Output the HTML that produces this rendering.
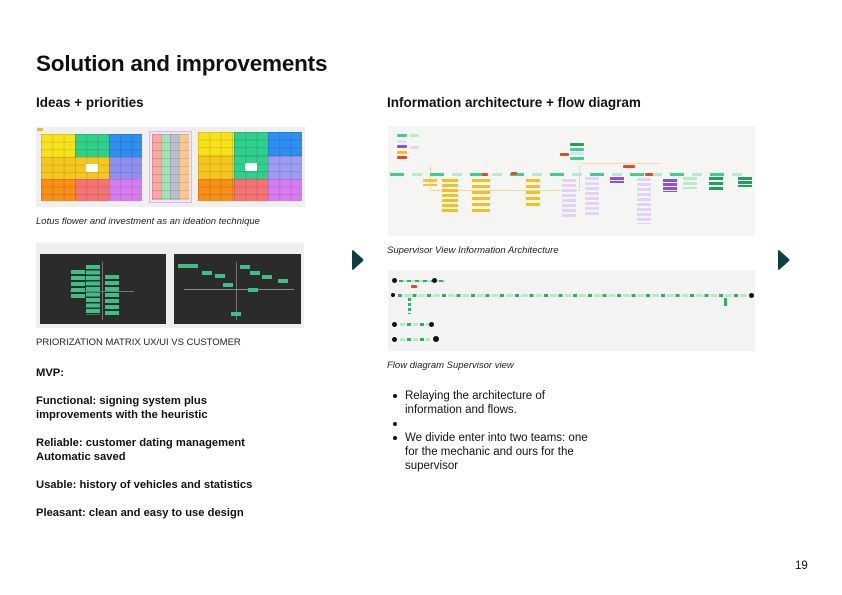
<!DOCTYPE html>
<html><head><meta charset="utf-8"><style>
*{margin:0;padding:0;box-sizing:border-box}
body{width:842px;height:595px;background:#fff;position:relative;overflow:hidden;font-family:"Liberation Sans",sans-serif;color:#111}
.a{position:absolute}
h1{position:absolute;left:36px;top:51px;font-size:22.5px;font-weight:bold;letter-spacing:-0.2px}
h2{position:absolute;font-size:13.5px;font-weight:bold}
.cap{position:absolute;font-size:9.5px;font-style:italic;color:#222}
.g{position:absolute;background-image:linear-gradient(rgba(0,0,0,.12) 1px,transparent 1px),linear-gradient(90deg,rgba(0,0,0,.12) 1px,transparent 1px);background-size:11.3px 7.6px}
.b{position:absolute;height:3px;border-radius:1px}
.dot{position:absolute;width:5px;height:5px;border-radius:50%;background:#111}
.mvp{position:absolute;left:36px;font-size:11.2px;font-weight:bold;line-height:14px;color:#111}
ul{position:absolute;left:392px;top:389px;font-size:11.5px;line-height:14px;list-style:none}
ul li{position:relative;padding-left:13px}
ul li:before{content:"";position:absolute;left:1px;top:5px;width:4px;height:4px;border-radius:50%;background:#111}
</style></head><body>
<h1>Solution and improvements</h1>
<h2 style="left:36px;top:95px">Ideas + priorities</h2>
<h2 style="left:387px;top:95px">Information architecture + flow diagram</h2>

<!-- lotus image -->
<div class="a" style="left:36px;top:127px;width:269px;height:80px;background:#efefef"></div>
<div class="a" style="left:37px;top:128px;width:6px;height:3px;background:#e8c020"></div>
<div class="g" style="left:41px;top:134px;width:34px;height:23px;background-color:#f7e21b"></div>
<div class="g" style="left:75px;top:134px;width:34px;height:23px;background-color:#2fcf8c"></div>
<div class="g" style="left:109px;top:134px;width:33px;height:23px;background-color:#2f8ff0"></div>
<div class="g" style="left:41px;top:157px;width:34px;height:22px;background-color:#f5c71e"></div>
<div class="g" style="left:75px;top:157px;width:34px;height:22px;background-color:#f5c71e"></div>
<div class="a" style="left:86px;top:164px;width:12px;height:8px;background:#fff"></div>
<div class="g" style="left:109px;top:157px;width:33px;height:22px;background-color:#8f8ff0"></div>
<div class="g" style="left:41px;top:179px;width:34px;height:22px;background-color:#f88f16"></div>
<div class="g" style="left:75px;top:179px;width:34px;height:22px;background-color:#f47474"></div>
<div class="g" style="left:109px;top:179px;width:33px;height:22px;background-color:#d77cf0"></div>
<div class="a" style="left:149px;top:131px;width:43px;height:72px;background:#f0e4fb;border:1px solid #d7b8f5"></div>
<div class="g" style="left:152px;top:134px;width:9px;height:66px;background-color:#f8a9a0;background-size:9px 8px"></div>
<div class="g" style="left:161px;top:134px;width:9px;height:66px;background-color:#9fe3b5;background-size:9px 8px"></div>
<div class="g" style="left:170px;top:134px;width:9px;height:66px;background-color:#b8c0ce;background-size:9px 8px"></div>
<div class="g" style="left:179px;top:134px;width:10px;height:66px;background-color:#f8c890;background-size:10px 8px"></div>
<div class="g" style="left:198px;top:132px;width:36px;height:24px;background-color:#f7e21b"></div>
<div class="g" style="left:234px;top:132px;width:34px;height:24px;background-color:#2fcf8c"></div>
<div class="g" style="left:268px;top:132px;width:34px;height:24px;background-color:#2f8ff0"></div>
<div class="g" style="left:198px;top:156px;width:36px;height:23px;background-color:#f5c71e"></div>
<div class="g" style="left:234px;top:156px;width:34px;height:23px;background-color:#2fcf8c"></div>
<div class="a" style="left:245px;top:163px;width:12px;height:8px;background:#fff"></div>
<div class="g" style="left:268px;top:156px;width:34px;height:23px;background-color:#9c9cf2"></div>
<div class="g" style="left:198px;top:179px;width:36px;height:22px;background-color:#f88f16"></div>
<div class="g" style="left:234px;top:179px;width:34px;height:22px;background-color:#f47474"></div>
<div class="g" style="left:268px;top:179px;width:34px;height:22px;background-color:#d77cf0"></div>
<div class="cap" style="left:36px;top:216px">Lotus flower and investment as an ideation technique</div>

<!-- matrix image -->
<div class="a" style="left:36px;top:243px;width:268px;height:85px;background:#efefef"></div>
<div class="a" style="left:40px;top:254px;width:126px;height:70px;background:#2b2b2b"></div>
<div class="a" style="left:174px;top:254px;width:127px;height:70px;background:#2b2b2b"></div>
<div class="a" style="left:102px;top:262px;width:1px;height:58px;background:#777"></div>
<div class="a" style="left:70px;top:291px;width:64px;height:1px;background:#777"></div>
<div class="a" style="left:236px;top:262px;width:1px;height:58px;background:#777"></div>
<div class="a" style="left:184px;top:289px;width:110px;height:1px;background:#888"></div>
<div class="a" style="left:71px;top:270px;width:14px;height:29px;background:repeating-linear-gradient(#3fbf88 0 4px,transparent 4px 6px)"></div>
<div class="a" style="left:86px;top:265px;width:14px;height:50px;background:repeating-linear-gradient(#3fbf88 0 4px,transparent 4px 5.5px)"></div>
<div class="a" style="left:105px;top:275px;width:14px;height:40px;background:repeating-linear-gradient(#3fbf88 0 4px,transparent 4px 6px)"></div>
<div class="a" style="left:178px;top:264px;width:20px;height:4px;background:#3fbf88"></div>
<div class="a" style="left:202px;top:271px;width:10px;height:4px;background:#3fbf88"></div>
<div class="a" style="left:215px;top:274px;width:10px;height:4px;background:#3fbf88"></div>
<div class="a" style="left:223px;top:283px;width:10px;height:4px;background:#3fbf88"></div>
<div class="a" style="left:240px;top:265px;width:10px;height:4px;background:#3fbf88"></div>
<div class="a" style="left:250px;top:271px;width:10px;height:4px;background:#3fbf88"></div>
<div class="a" style="left:262px;top:275px;width:10px;height:4px;background:#3fbf88"></div>
<div class="a" style="left:278px;top:279px;width:10px;height:4px;background:#3fbf88"></div>
<div class="a" style="left:248px;top:288px;width:10px;height:4px;background:#3fbf88"></div>
<div class="a" style="left:231px;top:312px;width:10px;height:4px;background:#3fbf88"></div>
<div class="cap" style="left:36px;top:337px;font-style:normal;font-size:9.5px">PRIORIZATION MATRIX UX/UI VS CUSTOMER</div>

<div class="mvp" style="top:366px">MVP:</div>
<div class="mvp" style="top:394px">Functional: signing system plus<br>improvements with the heuristic</div>
<div class="mvp" style="top:436px">Reliable: customer dating management<br>Automatic saved</div>
<div class="mvp" style="top:478px">Usable: history of vehicles and statistics</div>
<div class="mvp" style="top:506px">Pleasant: clean and easy to use design</div>

<!-- IA -->
<div class="a" style="left:388px;top:126px;width:367px;height:110px;background:#f5f5f3"></div>
<div class="b" style="left:397px;top:134px;width:10px;background:#3fcf88"></div>
<div class="b" style="left:410px;top:134px;width:9px;background:#b5ecc8"></div>
<div class="b" style="left:397px;top:140px;width:10px;background:#cfe6f8"></div>
<div class="b" style="left:397px;top:145px;width:10px;background:#8a4fe0"></div>
<div class="b" style="left:410px;top:146px;width:9px;background:#e2d4f8"></div>
<div class="b" style="left:397px;top:151px;width:10px;background:#f2c020"></div>
<div class="b" style="left:397px;top:156px;width:10px;background:#e04a2a"></div>
<div class="b" style="left:570px;top:143px;width:14px;background:#1f9f5a"></div>
<div class="b" style="left:570px;top:148px;width:14px;background:#3fcf88"></div>
<div class="b" style="left:570px;top:152px;width:14px;background:#cfe6f8"></div>
<div class="b" style="left:560px;top:153px;width:9px;background:#e04a2a"></div>
<div class="b" style="left:570px;top:157px;width:14px;background:#3fcf88"></div>
<div class="a" style="left:430px;top:165px;width:150px;height:26px;border:1px solid #f0dca0;border-top:none"></div>
<div class="a" style="left:580px;top:163px;width:80px;height:1px;background:#f0dca0"></div>
<div class="a" style="left:390px;top:173px;width:360px;height:3px;background:repeating-linear-gradient(90deg,#3fcf88 0 14px,transparent 14px 22px,#b5ecc8 22px 32px,transparent 32px 40px)"></div>
<div class="b" style="left:482px;top:173px;width:6px;background:#e04a2a"></div>
<div class="b" style="left:511px;top:172px;width:6px;background:#e04a2a"></div>
<div class="b" style="left:645px;top:173px;width:8px;background:#e04a2a"></div>
<div class="b" style="left:623px;top:165px;width:12px;background:#e04a2a"></div>
<div class="a" style="left:423px;top:179px;width:14px;height:7px;background:repeating-linear-gradient(#f2c020 0 3px,transparent 3px 5px);opacity:.9"></div>
<div class="a" style="left:442px;top:179px;width:16px;height:34px;background:repeating-linear-gradient(#f2c020 0 3px,transparent 3px 5px)"></div>
<div class="a" style="left:472px;top:179px;width:18px;height:34px;background:repeating-linear-gradient(#f2c020 0 3px,transparent 3px 6px)"></div>
<div class="a" style="left:526px;top:179px;width:14px;height:30px;background:repeating-linear-gradient(#f2c020 0 3px,transparent 3px 6px)"></div>
<div class="a" style="left:562px;top:179px;width:14px;height:40px;background:repeating-linear-gradient(#e2d4f8 0 3px,transparent 3px 5px)"></div>
<div class="a" style="left:585px;top:177px;width:14px;height:40px;background:repeating-linear-gradient(#e2d4f8 0 3px,transparent 3px 5px)"></div>
<div class="a" style="left:610px;top:177px;width:14px;height:6px;background:repeating-linear-gradient(#8a4fe0 0 3px,transparent 3px 4px)"></div>
<div class="a" style="left:637px;top:178px;width:14px;height:46px;background:repeating-linear-gradient(#e2d4f8 0 3px,transparent 3px 5px)"></div>
<div class="a" style="left:663px;top:179px;width:14px;height:13px;background:repeating-linear-gradient(#8a4fe0 0 3px,transparent 3px 4px)"></div>
<div class="a" style="left:683px;top:177px;width:14px;height:12px;background:repeating-linear-gradient(#b5ecc8 0 3px,transparent 3px 5px)"></div>
<div class="a" style="left:709px;top:177px;width:14px;height:14px;background:repeating-linear-gradient(#1f9f5a 0 3px,transparent 3px 5px)"></div>
<div class="a" style="left:738px;top:177px;width:14px;height:10px;background:repeating-linear-gradient(#1f9f5a 0 3px,transparent 3px 4px)"></div>
<div class="cap" style="left:387px;top:245px">Supervisor View Information Architecture</div>

<!-- flow -->
<div class="a" style="left:388px;top:270px;width:367px;height:81px;background:#f3f3f3"></div>
<div class="dot" style="left:392px;top:278px"></div>
<div class="a" style="left:399px;top:280px;width:46px;height:2px;background:repeating-linear-gradient(90deg,#2fb060 0 4px,#b5ecc8 4px 8px)"></div>
<div class="dot" style="left:432px;top:278px"></div>
<div class="b" style="left:411px;top:285px;width:6px;background:#e04a2a"></div>
<div class="dot" style="left:391px;top:293px;width:4px;height:4px"></div>
<div class="a" style="left:398px;top:294px;width:350px;height:3px;background:repeating-linear-gradient(90deg,#2fb060 0 4px,transparent 4px 6px,#b5ecc8 6px 13px,transparent 13px 14.6px)"></div>
<div class="dot" style="left:749px;top:293px"></div>
<div class="a" style="left:408px;top:298px;width:3px;height:16px;background:repeating-linear-gradient(#2fb060 0 3px,transparent 3px 5px)"></div>
<div class="a" style="left:724px;top:298px;width:3px;height:8px;background:#2fb060"></div>
<div class="dot" style="left:392px;top:322px"></div>
<div class="a" style="left:400px;top:323px;width:30px;height:3px;background:repeating-linear-gradient(90deg,#b5ecc8 0 5px,transparent 5px 7px,#2fb060 7px 11px,transparent 11px 13px)"></div>
<div class="dot" style="left:429px;top:322px"></div>
<div class="dot" style="left:392px;top:337px"></div>
<div class="a" style="left:400px;top:338px;width:30px;height:3px;background:repeating-linear-gradient(90deg,#b5ecc8 0 5px,transparent 5px 7px,#2fb060 7px 11px,transparent 11px 13px)"></div>
<div class="dot" style="left:433px;top:336px;width:6px;height:6px"></div>
<div class="cap" style="left:387px;top:360px">Flow diagram Supervisor view</div>

<ul>
<li>Relaying the architecture of<br>information and flows.</li>
<li>&nbsp;</li>
<li>We divide enter into two teams: one<br>for the mechanic and ours for the<br>supervisor</li>
</ul>

<svg class="a" style="left:350px;top:248px" width="16" height="24"><path d="M3 2 L13 11 Q14 12 13 13 L3 22 Q2 22 2 20 L2 4 Q2 2 3 2Z" fill="#0d3d45"/></svg>
<svg class="a" style="left:776px;top:248px" width="16" height="24"><path d="M3 2 L13 11 Q14 12 13 13 L3 22 Q2 22 2 20 L2 4 Q2 2 3 2Z" fill="#0d3d45"/></svg>

<div class="a" style="left:795px;top:560px;font-size:11.5px">19</div>
</body></html>
